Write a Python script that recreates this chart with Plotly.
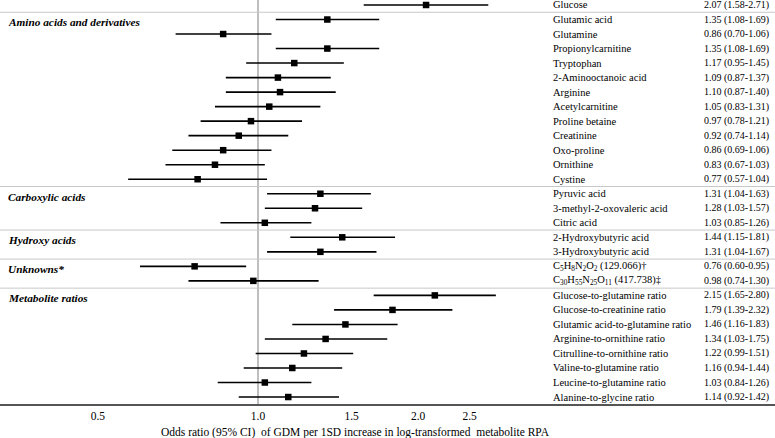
import plotly.graph_objects as go

names = ["Glucose", "Glutamic acid", "Glutamine", "Propionylcarnitine", "Tryptophan",
         "2-Aminooctanoic acid", "Arginine", "Acetylcarnitine", "Proline betaine", "Creatinine",
         "Oxo-proline", "Ornithine", "Cystine", "Pyruvic acid", "3-methyl-2-oxovaleric acid",
         "Citric acid", "2-Hydroxybutyric acid", "3-Hydroxybutyric acid",
         "C<sub>5</sub>H<sub>8</sub>N<sub>2</sub>O<sub>2</sub> (129.066)†",
         "C<sub>30</sub>H<sub>55</sub>N<sub>25</sub>O<sub>11</sub> (417.738)‡",
         "Glucose-to-glutamine ratio", "Glucose-to-creatinine ratio",
         "Glutamic acid-to-glutamine ratio", "Arginine-to-ornithine ratio",
         "Citrulline-to-ornithine ratio", "Valine-to-glutamine ratio",
         "Leucine-to-glutamine ratio", "Alanine-to-glycine ratio"]
odds = [2.07, 1.35, 0.86, 1.35, 1.17, 1.09, 1.10, 1.05, 0.97, 0.92, 0.86, 0.83, 0.77,
        1.31, 1.28, 1.03, 1.44, 1.31, 0.76, 0.98, 2.15, 1.79, 1.46, 1.34, 1.22, 1.16, 1.03, 1.14]
lower = [1.58, 1.08, 0.70, 1.08, 0.95, 0.87, 0.87, 0.83, 0.78, 0.74, 0.69, 0.67, 0.57,
         1.04, 1.03, 0.85, 1.15, 1.04, 0.60, 0.74, 1.65, 1.39, 1.16, 1.03, 0.99, 0.94, 0.84, 0.92]
upper = [2.71, 1.69, 1.06, 1.69, 1.45, 1.37, 1.40, 1.31, 1.21, 1.14, 1.06, 1.03, 1.04,
         1.63, 1.57, 1.26, 1.81, 1.67, 0.95, 1.30, 2.80, 2.32, 1.83, 1.75, 1.51, 1.44, 1.26, 1.42]
groups = ["Amino acids and derivatives", "Carboxylic acids", "Hydroxy acids",
          "Unknowns*", "Metabolite ratios"]
group_start = [1, 13, 16, 18, 20]
tick_vals = [0.5, 1.0, 1.5, 2.0, 2.5]
tick_text = ["0.5", "1.0", "1.5", "2.0", "2.5"]
x_title = "Odds ratio (95% CI)\u00a0 of GDM per 1SD increase in log-transformed\u00a0 metabolite RPA"

W, H = 775, 438
FONT = "Liberation Serif, Times New Roman, serif"
ROW_SIZE = 10.5
rows = list(range(len(names)))
value_text = [f"{o:.2f} ({l:.2f}-{u:.2f})" for o, l, u in zip(odds, lower, upper)]

fig = go.Figure()
fig.add_trace(go.Scatter(
    x=odds, y=rows, mode="markers",
    marker=dict(symbol="square", size=6.5, color="black"),
    error_x=dict(type="data", symmetric=False,
                 array=[u - o for u, o in zip(upper, odds)],
                 arrayminus=[o - l for o, l in zip(odds, lower)],
                 color="black", thickness=1.6, width=0),
    showlegend=False, hoverinfo="skip"))

shapes = [dict(type="line", xref="x", yref="paper", x0=1, x1=1, y0=0, y1=1,
               line=dict(color="#7f7f7f", width=1), layer="below")]
for s in group_start:
    shapes.append(dict(type="line", xref="paper", yref="y", x0=0, x1=1, y0=s - 0.5, y1=s - 0.5,
                       line=dict(color="#c8c8c8", width=1), layer="below"))

ann = []
for r, n, v in zip(rows, names, value_text):
    ann.append(dict(x=551 / W, y=r, xref="paper", yref="y", text=n, showarrow=False,
                    xanchor="left", yanchor="middle",
                    font=dict(family=FONT, size=ROW_SIZE, color="black")))
    ann.append(dict(x=771 / W, y=r, xref="paper", yref="y", text=v, showarrow=False,
                    xanchor="right", yanchor="middle",
                    font=dict(family=FONT, size=10, color="black")))
for g, s in zip(groups, group_start):
    ann.append(dict(x=6 / W, y=s + 0.2, xref="paper", yref="y", text=f"<b><i>{g}</i></b>",
                    showarrow=False, xanchor="left", yanchor="middle",
                    font=dict(family=FONT, size=11.3, color="black")))
plot_h = 404
ann.append(dict(x=355 / W, y=(plot_h - 432) / plot_h, xref="paper", yref="paper", text=x_title,
                showarrow=False, xanchor="center", yanchor="middle",
                font=dict(family=FONT, size=11.5, color="black")))

px_per_dec = 231 * 2.302585
fig.update_layout(
    width=W, height=H, margin=dict(l=0, r=0, t=0, b=H - plot_h),
    paper_bgcolor="white", plot_bgcolor="white",
    shapes=shapes, annotations=ann,
    xaxis=dict(type="log", range=[-258 / px_per_dec, (W - 258) / px_per_dec],
               tickvals=tick_vals, ticktext=tick_text, ticks="", showgrid=False, zeroline=False,
               showline=True, linecolor="#555555", linewidth=1.5, ticklabelstandoff=0,
               tickfont=dict(family=FONT, size=11.5, color="black")),
    yaxis=dict(range=[27.48, -0.344], visible=False, showgrid=False, zeroline=False),
)
fig.write_html("out.html", config={"displayModeBar": False},
               post_script="document.body.style.margin='0';document.body.style.overflow='hidden';")
